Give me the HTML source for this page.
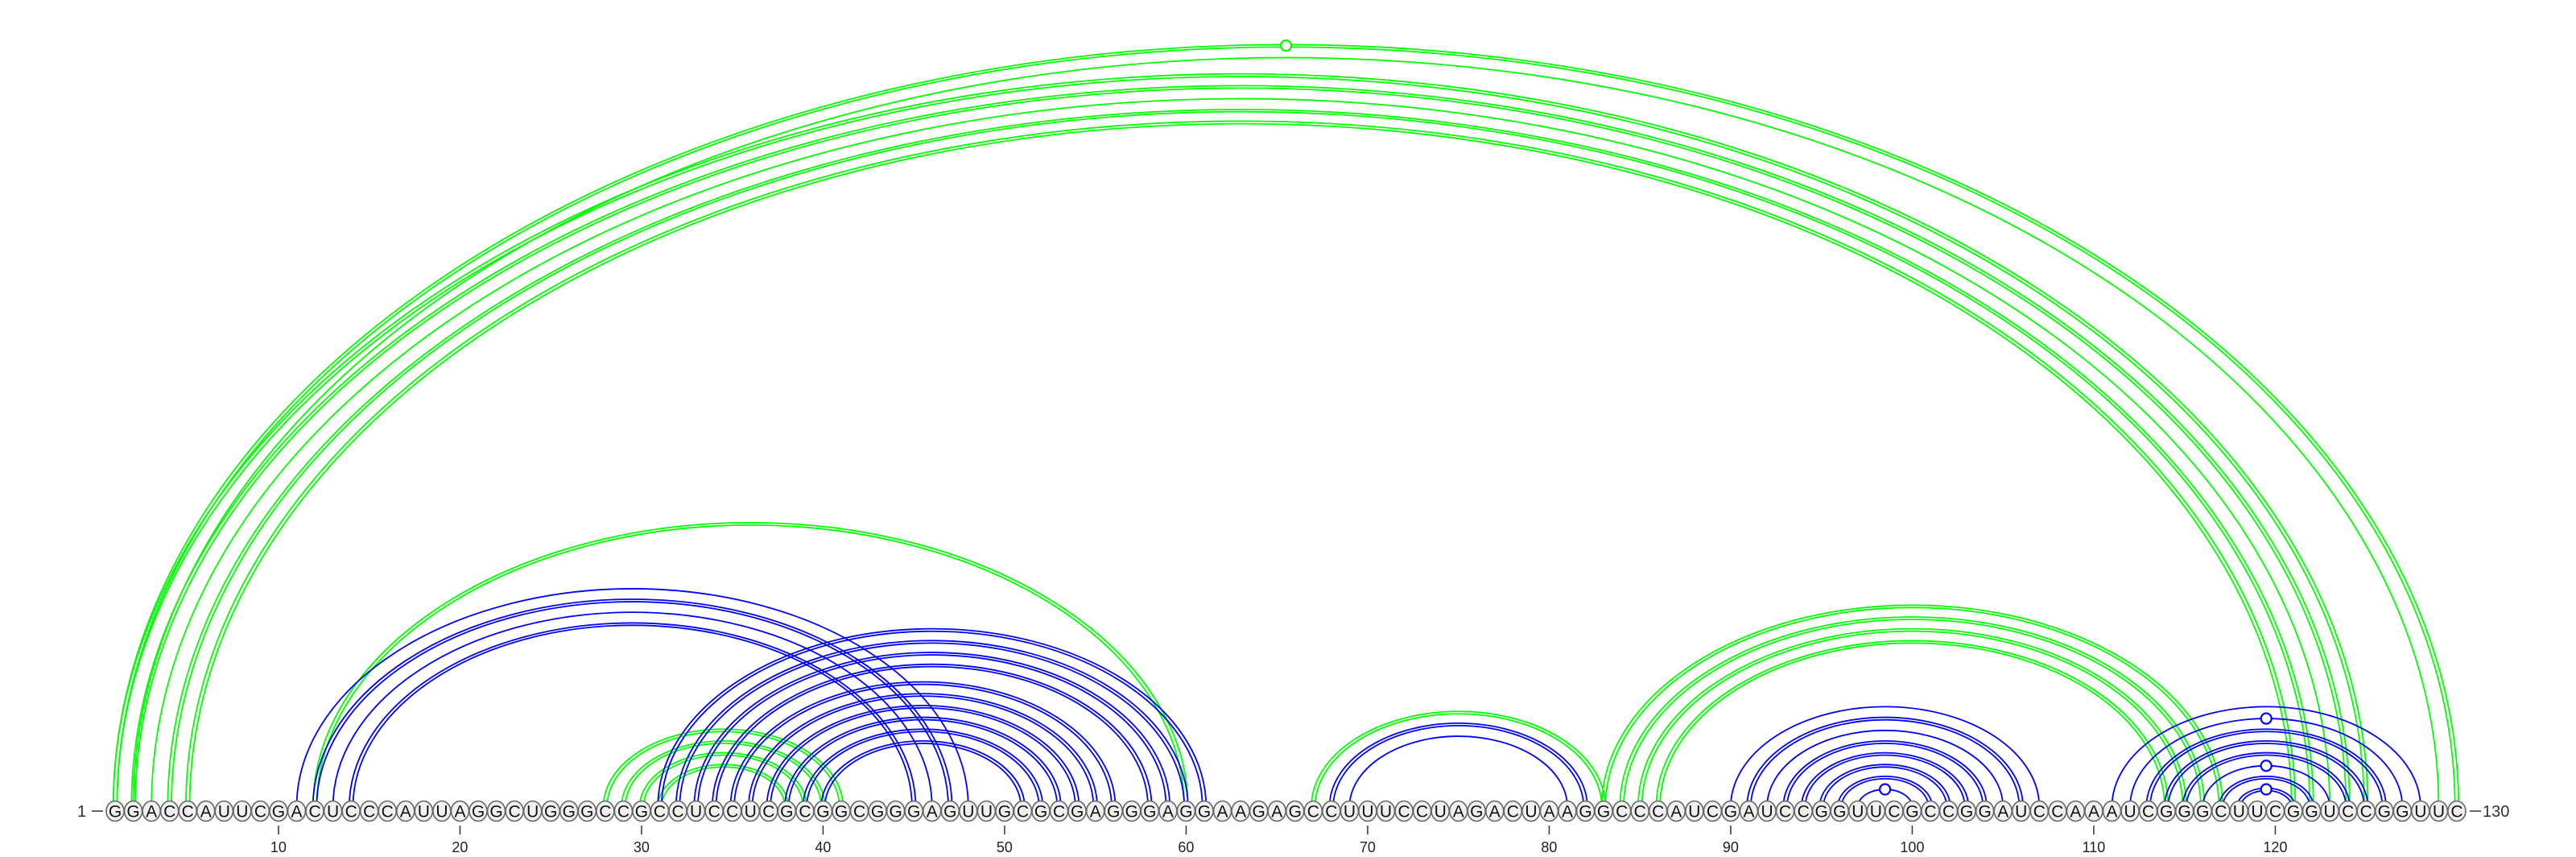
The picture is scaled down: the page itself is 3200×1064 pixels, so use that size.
<!DOCTYPE html>
<html><head><meta charset="utf-8"><style>
html,body{margin:0;padding:0;background:#fff;}
svg{display:block;}
text{font-family:"Liberation Sans","DejaVu Sans",sans-serif;}
</style></head><body>
<svg id="chart" width="3200" height="1064" viewBox="0 0 3200 1064" xmlns="http://www.w3.org/2000/svg">
<g id="arcs"></g>
<g id="nts"></g>
<g id="axis"></g>
</svg>
<script>
const sequence = "GGACCAUUCGACUCCCAUUAGGCUGGGCCGCCUCCUCGCGGCGGGAGUUGCGCGAGGGAGGAAGAGCCUUUCCUAGACUAAGGCCCAUCGAUCCGGUUCGCCGGAUCCAAAUCGGGCUUCGGUCCGGUUC";
const greenPairs = [[1,130,2,1],[2,129,1,0],[1,125,2,0],[2,124,2,0],[3,123,1,0],[4,122,2,0],[5,121,2,0],
 [12,60,2,0],[28,41,2,0],[29,40,2,0],[30,39,2,0],[31,38,2,0],[67,83,2,0],
 [83,117,2,0],[84,116,2,0],[85,115,2,0],[86,114,2,0]];
const bluePairs = [[11,48,1,0],[12,47,2,0],[13,46,1,0],[14,45,2,0],
 [31,61,2,0],[32,60,2,0],[33,59,2,0],[34,58,2,0],[35,56,2,0],[36,55,2,0],[37,54,2,0],[38,53,2,0],[39,52,2,0],[40,51,2,0],
 [68,82,2,0],[69,81,1,0],
 [90,107,1,0],[91,106,2,0],[92,105,1,0],[93,104,2,0],[94,103,2,0],[95,102,2,0],[96,101,2,0],[97,100,1,1],
 [111,128,1,0],[112,127,1,1],[113,126,2,0],[114,125,2,0],[115,124,2,0],[116,123,1,1],[117,122,2,0],[118,121,2,1]];
const tickPositions = [10,20,30,40,50,60,70,80,90,100,110,120];

const NS="http://www.w3.org/2000/svg";
const X0=143, STEP=22.55, YC=1007, YARC=1002, RATIO=0.65;
function xOf(i){return X0+(i-1)*STEP;}
function mk(tag,attrs,parent){const e=document.createElementNS(NS,tag);for(const k in attrs)e.setAttribute(k,attrs[k]);parent.appendChild(e);return e;}
const arcs=document.getElementById('arcs'), nts=document.getElementById('nts'), axis=document.getElementById('axis');

function drawPairs(list,color,label){
  list.forEach(p=>{
    const [a,b,n,m]=p;
    const x1=xOf(a), x2=xOf(b), cx=(x1+x2)/2, rx0=(x2-x1)/2;
    const offs = n===2?[-2.3,2.3]:[0];
    offs.forEach(o=>{
      const rx=rx0+o, ry=rx*RATIO;
      const path=mk('path',{d:`M ${cx-rx} ${YARC} A ${rx} ${ry} 0 0 1 ${cx+rx} ${YARC}`,fill:'none',stroke:color,'stroke-width':1.8},arcs);
      
      
    });
    if(m){
      const c=mk('circle',{cx:cx,cy:YARC-rx0*RATIO,r:6.5,fill:'#fff',stroke:color,'stroke-width':2.2},arcs);
      
      
    }
  });
}
drawPairs(greenPairs,'#00ff00','green');
drawPairs(bluePairs,'#0000ff','blue');

for(let i=0;i<sequence.length;i++){
  const x=xOf(i+1);
  const g=mk('g',{},nts);
  
  
  mk('ellipse',{cx:x,cy:YC,rx:11,ry:12.5,fill:'#f0f0f0',stroke:'#666','stroke-width':1.6},g);
  const t=mk('text',{x:x,y:YC+7.5,'text-anchor':'middle','font-size':21,fill:'#111'},g);
  t.textContent=sequence[i];
}
tickPositions.forEach(p=>{
  const x=xOf(p);
  const l=mk('line',{x1:x,y1:1025,x2:x,y2:1036,stroke:'#333','stroke-width':1.5},axis);
  
  
  const t=mk('text',{x:x,y:1058,'text-anchor':'middle','font-size':18,fill:'#222'},axis);
  
  
  t.textContent=p;
});
const s=mk('text',{x:96,y:1014,'font-size':20,fill:'#333'},axis);


s.textContent='1';
mk('line',{x1:114,y1:1007,x2:128,y2:1007,stroke:'#333','stroke-width':1.5},axis);
const e=mk('line',{x1:3068,y1:1007,x2:3082,y2:1007,stroke:'#333','stroke-width':1.5},axis);
const et=mk('text',{x:3084,y:1014,'font-size':20,fill:'#333'},axis);


et.textContent='130';
</script>
</body></html>
